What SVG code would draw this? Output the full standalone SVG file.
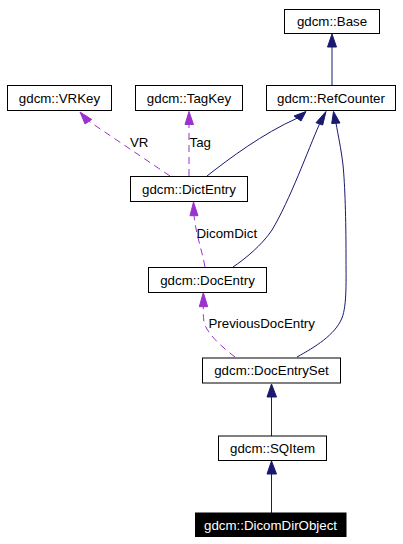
<svg xmlns="http://www.w3.org/2000/svg" width="403" height="544" viewBox="0 0 403 544">
<style>
.box{fill:#ffffff;stroke:#000000;stroke-width:1}
.sel{fill:#000000;stroke:#000000;stroke-width:1}
text{font-family:"Liberation Sans",Arial,sans-serif;font-size:13.3px;fill:#000000}
.nt{text-anchor:middle}
.wt{fill:#ffffff}
.inh{fill:none;stroke:#191970;stroke-width:1}
.inhh{fill:#191970;stroke:#191970;stroke-width:1}
.use{fill:none;stroke:#9a32cd;stroke-width:1;stroke-dasharray:7,5}
.useh{fill:#9a32cd;stroke:#9a32cd;stroke-width:1}
</style>
<rect width="403" height="544" fill="#ffffff"/>
<g id="connectors">
  <path class="inh" d="M332,85 L332,47"/>
  <polygon class="inhh" points="332,34 327.5,47 336.5,47"/>
  <path class="inh" d="M207,176 C230,158 262,134 297.5,118"/>
  <polygon class="inhh" points="306,111.5 294,116 301,121"/>
  <path class="inh" d="M233,267 C245,259 262,245 272,230 C290,200 308,150 319.5,124"/>
  <polygon class="inhh" points="326,111.5 316,122.7 322.7,125"/>
  <path class="inh" d="M297,357 C315,347 335,335 342,318 C347,305 346,280 346,255 C346,220 345,185 343,165 C341,148 338,135 336,123"/>
  <polygon class="inhh" points="333.5,111.5 331.7,123.5 340,123"/>
  <path class="use" d="M170,176 L88.5,121"/>
  <polygon class="useh" points="80,112 91.7,119.5 85,124"/>
  <path class="use" d="M189,176 L189,124.5"/>
  <polygon class="useh" points="189,111.5 185,124.5 193.5,124.5"/>
  <path class="use" d="M205,267 C202,250 196,235 194,215.7"/>
  <polygon class="useh" points="193.5,202 190,215.7 198,215.7"/>
  <path class="use" d="M235,357 C222,347 207,334 204,322 C203,315 203.3,310 203.3,306.7"/>
  <polygon class="useh" points="203.3,292.5 199.3,306.7 207.7,306.7"/>
  <path class="inh" d="M271.5,436 L271.5,397"/>
  <polygon class="inhh" points="271.5,384 267,397 276.5,397"/>
  <path class="inh" d="M271.5,513 L271.5,474"/>
  <polygon class="inhh" points="271.5,461 267,474 276.5,474"/>
  <text x="130" y="147">VR</text>
  <text x="189.5" y="147">Tag</text>
  <text x="196.5" y="237.5">DicomDict</text>
  <text x="208.5" y="327.5">PreviousDocEntry</text>
</g>
<g id="Base"><rect class="box" x="284.5" y="9.5" width="95" height="24"/><text class="nt" x="332" y="26">gdcm::Base</text></g>
<g id="RefCounter"><rect class="box" x="266.5" y="85.5" width="129" height="25"/><text class="nt" x="331" y="102.5">gdcm::RefCounter</text></g>
<g id="VRKey"><rect class="box" x="7.5" y="85.5" width="104" height="25"/><text class="nt" x="59.5" y="102.5">gdcm::VRKey</text></g>
<g id="TagKey"><rect class="box" x="135.5" y="85.5" width="107" height="25"/><text class="nt" x="189" y="102.5">gdcm::TagKey</text></g>
<g id="DictEntry"><rect class="box" x="130.5" y="176.5" width="117" height="25"/><text class="nt" x="189" y="193.5">gdcm::DictEntry</text></g>
<g id="DocEntry"><rect class="box" x="148.5" y="267.5" width="118" height="25"/><text class="nt" x="207.5" y="284.5">gdcm::DocEntry</text></g>
<g id="DocEntrySet"><rect class="box" x="202.5" y="358" width="138" height="25"/><text class="nt" x="271.5" y="375">gdcm::DocEntrySet</text></g>
<g id="SQItem"><rect class="box" x="218.5" y="436" width="108" height="24.5"/><text class="nt" x="272.5" y="452.5">gdcm::SQItem</text></g>
<g id="DicomDirObject"><rect class="sel" x="195.5" y="513" width="150.5" height="23.5"/><text class="nt wt" x="270.5" y="529.5">gdcm::DicomDirObject</text></g>
</svg>
